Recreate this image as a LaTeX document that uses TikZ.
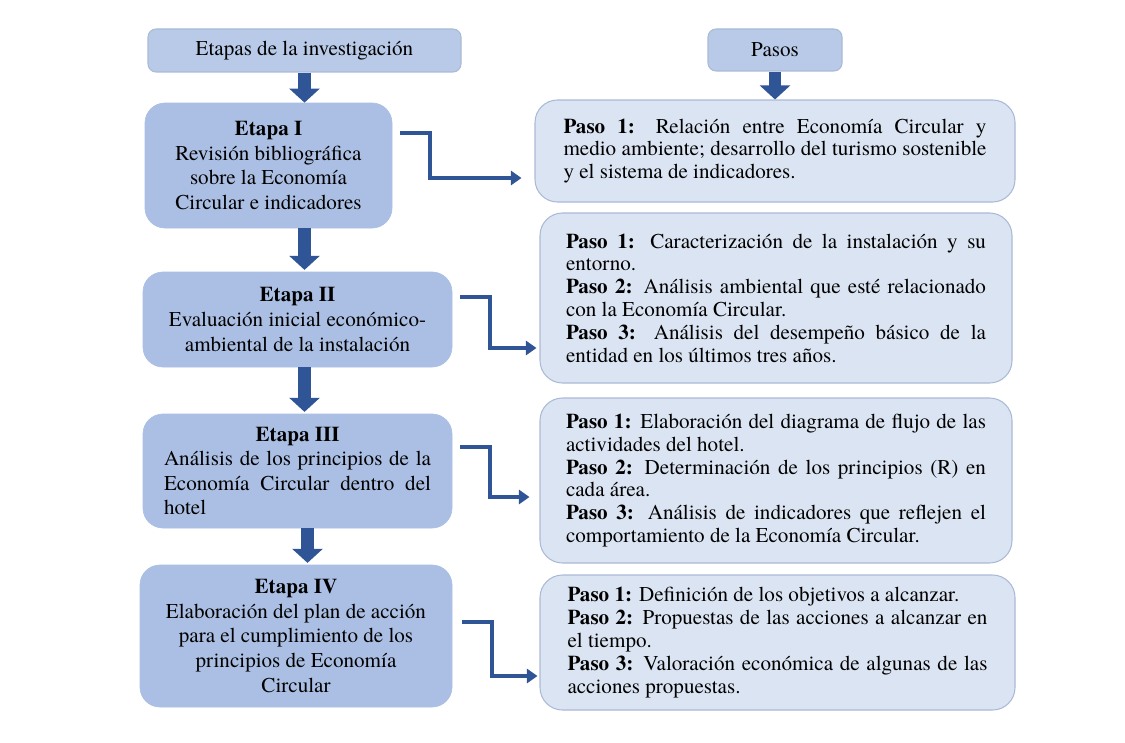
\documentclass[tikz,border=0pt]{standalone}
\usepackage{fontspec}
\setmainfont{texgyretermes}[Extension=.otf, UprightFont=*-regular, BoldFont=*-bold, ItalicFont=*-italic, BoldItalicFont=*-bolditalic]
\usepackage{tikz}
\usetikzlibrary{arrows.meta,shapes,positioning}
\definecolor{hdblue}{RGB}{184,202,232}
\definecolor{etblue}{RGB}{170,191,227}
\definecolor{pablue}{RGB}{219,228,242}
\definecolor{edgeblue}{RGB}{170,186,214}
\definecolor{arblue}{RGB}{47,85,151}
\tolerance=5000
\hyphenpenalty=10000
\exhyphenpenalty=10000
\tikzstyle{header} = [rectangle, rounded corners=0.16cm, draw=edgeblue, fill=hdblue, line width=0.6pt, text centered, font=\fontsize{12}{14}\selectfont]
\tikzstyle{etapa} = [rectangle, rounded corners=0.4cm, draw=etblue, fill=etblue, align=center, font=\fontsize{12}{14}\selectfont]
\tikzstyle{paso} = [rectangle, rounded corners=0.45cm, draw=edgeblue, fill=pablue, line width=0.6pt, text width=8.4cm, align=justify, font=\fontsize{12}{13}\selectfont]
\tikzstyle{downarrow} = [line width=7pt, -{Triangle[length=8pt,width=17pt]}, color=arblue]
\tikzstyle{elbow} = [line width=2.3pt, -{Triangle[length=6pt,width=8pt]}, color=arblue]

\begin{document}
\begin{tikzpicture}
    \useasboundingbox (0,0) rectangle (22.5,-14.84);

    % Headers
    \node[header, minimum width=6.26cm, minimum height=0.86cm] (hdrL) at (6.09,-1.01) {Etapas de la investigación};
    \node[header, minimum width=2.68cm, minimum height=0.84cm] (hdrR) at (15.5,-1.0) {Pasos};

    % Left column - Etapas
    \node[etapa, minimum width=4.94cm, minimum height=2.5cm] (etI) at (5.37,-3.31) {\textbf{Etapa I}\\Revisión bibliográfica\\sobre la Economía\\Circular e indicadores};
    \node[etapa, minimum width=6.18cm, minimum height=1.9cm] (etII) at (5.95,-6.39) {\textbf{Etapa II}\\Evaluación inicial económico-\\ambiental de la instalación};
    \node[etapa, minimum width=6.18cm, minimum height=2.28cm, text width=5.34cm, align=justify] (etIII) at (5.95,-9.42) {\hfill\textbf{Etapa III}\hfill\null\par Análisis de los principios de la Economía Circular dentro del hotel};
    \node[etapa, minimum width=6.24cm, minimum height=2.84cm] (etIV) at (5.92,-12.72) {\textbf{Etapa IV}\\Elaboración del plan de acción\\para el cumplimiento de los\\principios de Economía\\Circular};

    % Right column - Pasos
    \node[paso, minimum width=9.6cm, minimum height=2.04cm, text width=8.46cm] (pasoI) at (15.5,-3.02) {\textbf{Paso 1:} Relación entre Economía Circular y\linebreak medio ambiente; desarrollo del turismo sostenible y el sistema de indicadores.};
    \node[paso, minimum width=9.44cm, minimum height=3.4cm] (pasoII) at (15.52,-5.96) {\textbf{Paso 1:} Caracterización de la instalación y su entorno.\par
        \textbf{Paso 2:} Análisis ambiental que esté relacionado con la Economía Circular.\par
        \textbf{Paso 3:} Análisis del desempeño básico de la entidad en los últimos tres años.};
    \node[paso, minimum width=9.44cm, minimum height=3.3cm] (pasoIII) at (15.52,-9.61) {\textbf{Paso 1:} Elaboración del diagrama de flujo de las actividades del hotel.\par
        \textbf{Paso 2:} Determinación de los principios (R) en cada área.\par
        \textbf{Paso 3:} Análisis de indicadores que reflejen el comportamiento de la Economía Circular.};
    \node[paso, minimum width=9.5cm, minimum height=2.7cm] (pasoIV) at (15.55,-12.85) {\textbf{Paso 1:} Definición de los objetivos a alcanzar.\par
        \textbf{Paso 2:} Propuestas de las acciones a alcanzar en\linebreak el tiempo.\par
        \textbf{Paso 3:} Valoración económica de algunas de las acciones propuestas.};

    % Vertical arrows
    \draw[downarrow] (hdrL.south) -- (hdrL.south |- etI.north);
    \draw[downarrow] (hdrR.south) -- (pasoI.north);
    \draw[downarrow] (hdrL.south |- etI.south) -- ([yshift=1pt]hdrL.south |- etII.north);
    \draw[downarrow] (hdrL.south |- etII.south) -- ([yshift=1pt]hdrL.south |- etIII.north);
    \draw[downarrow] ([xshift=0.06cm]hdrL.south |- etIII.south) -- ([xshift=0.06cm,yshift=1pt]hdrL.south |- etIV.north);

    % Elbow arrows to the steps
    \draw[elbow] ([shift={(0.16,-0.6)}]etI.north east) -- ++(0.6,0) |- ([shift={(-0.26,-0.54)}]pasoI.west);
    \draw[elbow] ([shift={(0.16,-0.5)}]etII.north east) -- ++(0.6,0) |- ([shift={(-0.06,-1.0)}]pasoII.west);
    \draw[elbow] ([shift={(0.16,-0.66)}]etIII.north east) -- ++(0.6,0) |- ([shift={(-0.2,-0.33)}]pasoIII.west);
    \draw[elbow] ([shift={(0.2,-1.14)}]etIV.north east) -- ++(0.6,0) |- ([shift={(-0.04,-0.67)}]pasoIV.west);
\end{tikzpicture}
\end{document}
